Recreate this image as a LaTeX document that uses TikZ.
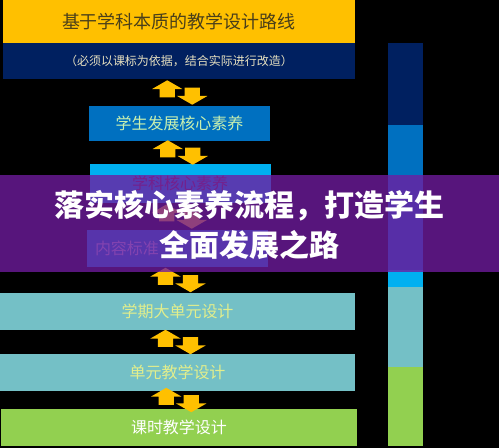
\documentclass[tikz,border=0pt]{standalone}
\usepackage{fontspec}
\usepackage{tikz}
\usetikzlibrary{positioning,calc,shapes.arrows}
\newfontfamily\cjk{Noto Sans CJK SC}
\definecolor{gold}{HTML}{FFC000}
\definecolor{navy}{HTML}{002060}
\definecolor{azure}{HTML}{0070C0}
\definecolor{sky}{HTML}{00B0F0}
\definecolor{teal2}{HTML}{74C0C6}
\definecolor{lime2}{HTML}{92D050}
\definecolor{banner}{RGB}{112,28,160}
\definecolor{olivetext}{HTML}{4A3F1A}
\definecolor{creamtext}{HTML}{E6E0C0}
\definecolor{minttext}{HTML}{C8F0B0}
\definecolor{redtext}{HTML}{803048}
\definecolor{paletext}{HTML}{C8D0E8}
\definecolor{limetext}{HTML}{E2EE8C}
\tikzset{stufe/.style = {
  rectangle,
  inner sep=0pt,
  align=center,
  font=\cjk\fontsize{16}{16}\selectfont,
}}

\begin{document}
\begin{tikzpicture}[
  x=1pt, y=-1pt,
  pfeil/.style={single arrow,fill=gold,inner xsep=0pt,inner ysep=7.5pt,minimum width=30pt,minimum height=17pt,
    single arrow head extend=7.5pt,single arrow tip angle=120},
  hoch/.style={pfeil,rotate=90},
  runter/.style={pfeil,rotate=-90},
  breit/.style={minimum width=355pt,minimum height=37pt},
  schmal/.style={minimum width=181pt},
  ]
  \fill[black] (0,0) rectangle (499,448);
  \useasboundingbox (0,0) rectangle (499,448);

  \node [stufe,fill=gold,minimum width=352pt,minimum height=43pt,text=olivetext,
         font=\cjk\fontsize{18}{18}\selectfont] (LUX) at (179,21.5) {基于学科本质的教学设计路线};
  \node [stufe,fill=navy,minimum width=352pt,minimum height=36pt,text=creamtext,
         font=\cjk\fontsize{12}{12}\selectfont] (YAO) at (179,61) {（必须以课标为依据，结合实际进行改造）};
  \node [stufe,schmal,fill=azure,minimum height=35pt,text=minttext] (HXS) at (179.5,123.5) {学生发展核心素养};
  \node [stufe,schmal,fill=sky,minimum height=39pt,text=redtext] (XKS) at (180,183.5) {学科核心素养};
  \node [stufe,schmal,fill=azure!60!sky,minimum height=37pt,text width=165pt,align=left,
         text=paletext] (NRB) at (177.5,248.5) {内容标准};
  \node [stufe,breit,fill=teal2,text=limetext] (XQD) at (177.5,311.5) {学期大单元设计};
  \node [stufe,breit,fill=teal2,text=limetext] (DYJ) at (177.5,372.5) {单元教学设计};
  \node [stufe,breit,fill=lime2,text=white,minimum width=356pt] (KSJ) at (179,427.5) {课时教学设计};

  \foreach \a/\b [count=\i] in {YAO/HXS,HXS/XKS,XKS/NRB,NRB/XQD,XQD/DYJ,DYJ/KSJ} {
    \node [hoch] (UP\i) at ($(\a.south)!0.5!(\b.north) + (-12,-1.5)$) {};
    \node [runter] (DN\i) at ($(\a.south)!0.5!(\b.north) + (13,1.5)$) {};
  }

  \fill[navy] (388,43) rectangle (423,125);
  \fill[azure] (388,125) rectangle (423,270);
  \fill[sky] (388,270) rectangle (423,287);
  \fill[teal2] (388,287) rectangle (423,367);
  \fill[lime2] (388,367) rectangle (423,446);

  \fill[banner,fill opacity=0.78] (0,175) rectangle (499,272);
  \node [align=center,text=white,font=\cjk\bfseries\fontsize{30}{40}\selectfont] (TTL) at (249.5,225)
        {落实核心素养流程，打造学生\\全面发展之路};
\end{tikzpicture}
\end{document}
